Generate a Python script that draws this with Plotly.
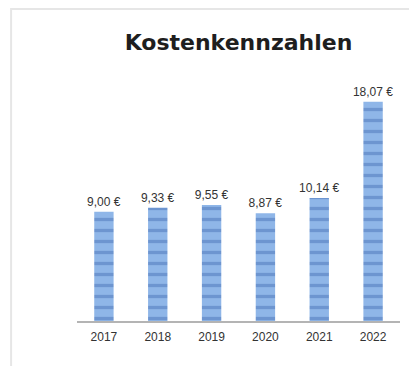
import plotly.graph_objects as go

years = ['2017', '2018', '2019', '2020', '2021', '2022']
costs = [9.00, 9.33, 9.55, 8.87, 10.14, 18.07]

labels = [f"{v:.2f}".replace('.', ',') + ' €' for v in costs]

fig = go.Figure()
fig.add_trace(go.Bar(
    x=years, y=costs,
    text=labels, textposition='outside', cliponaxis=False,
    constraintext='none',
    textfont=dict(family='Liberation Sans, Arial', size=12, color='#333333'),
    marker=dict(
        color='#86aee3',
        line=dict(width=0),
        pattern=dict(shape='-', bgcolor='#8fb6e8', fgcolor='#6d95d0',
                     size=11, solidity=0.3, fillmode='replace'),
    ),
    width=0.36,
))

# light frame like the original chart border
fig.add_shape(type='rect', xref='paper', yref='paper',
              x0=-0.204, x1=1.2, y0=-0.3, y1=1.195,
              line=dict(color='#e6e6e6', width=2), fillcolor='rgba(0,0,0,0)',
              layer='below')

fig.update_layout(
    width=417, height=366,
    margin=dict(l=69, r=25, t=52, b=53),
    paper_bgcolor='white', plot_bgcolor='white',
    showlegend=False,
    title=dict(text='<b>Kostenkennzahlen</b>', x=0.5, xref='paper', xanchor='center',
               y=1 - 34 / 366, yref='container', yanchor='middle',
               font=dict(family='DejaVu Sans', size=22, color='#1e1e1e')),
    xaxis=dict(
        showline=True, linecolor='#b4b4b4', linewidth=1.5,
        showgrid=False, ticks='outside', ticklen=4, tickcolor='rgba(0,0,0,0)',
        tickfont=dict(family='Liberation Sans, Arial', size=12, color='#333333'),
    ),
    yaxis=dict(range=[0, 21.5], visible=False, showgrid=False),
)

fig.write_html("out.html")
